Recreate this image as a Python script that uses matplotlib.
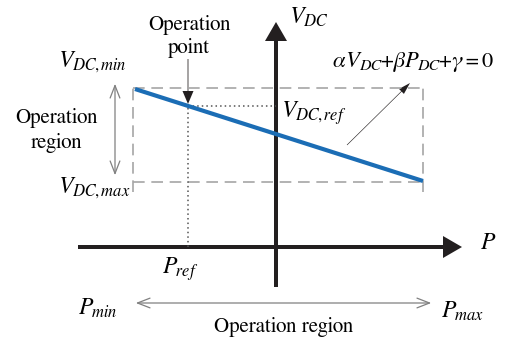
import matplotlib
matplotlib.use("Agg")
import matplotlib.pyplot as plt
from matplotlib.patches import FancyArrow

# fonts: Times-like serif with italic math
plt.rcParams['font.family'] = ['FreeSerif', 'Liberation Serif', 'DejaVu Serif']
plt.rcParams['mathtext.fontset'] = 'custom'
plt.rcParams['mathtext.rm'] = 'FreeSerif'
plt.rcParams['mathtext.it'] = 'FreeSerif:italic'
plt.rcParams['mathtext.bf'] = 'FreeSerif:bold'

# diagram values (P horizontal, V_DC vertical, origin at axis crossing)
p_limits = [-143, 147]          # P_min, P_max
v_limits = [65, 159]            # V_DC,max (bottom), V_DC,min (top)
droop_p = [-141, 147]
droop_v = [158, 66]
op_p, op_v = -88, 141           # operation point

blue = '#1b6db5'
gray = '#a6a6a6'
black = '#231f20'

fig = plt.figure(figsize=(5.05, 3.45), dpi=100)
ax = fig.add_axes([0, 0, 1, 1])
ax.set_xlim(-276, 229)
ax.set_ylim(-98, 247)
ax.axis('off')

# main axes arrows
ax.add_patch(FancyArrow(-198, 0, 384, 0, width=4, head_width=22, head_length=19,
                        length_includes_head=True, color=black, lw=0))
ax.add_patch(FancyArrow(0, -40, 0, 265, width=4, head_width=22, head_length=19,
                        length_includes_head=True, color=black, lw=0))

# dashed operation rectangle
ax.plot(p_limits, [v_limits[1]] * 2, color=gray, lw=1.2, ls=(0, (7, 4)))
ax.plot(p_limits, [v_limits[0]] * 2, color=gray, lw=1.2, ls=(0, (7, 4)))
for p in p_limits:
    ax.plot([p, p], [v_limits[0] - 10, v_limits[1]], color=gray, lw=1.2, ls=(0, (7, 4)))

# dotted guides to the operation point
ax.plot([op_p, 0], [op_v, op_v], color='#555555', lw=1.1, ls=(0, (1, 2)))
ax.plot([op_p, op_p], [0, op_v], color='#555555', lw=1.1, ls=(0, (1, 2)))

# droop line
ax.plot(droop_p, droop_v, color=blue, lw=3, solid_capstyle='butt')

# operation point arrow
ax.add_patch(FancyArrow(op_p, 188, 0, op_v - 186, width=0.8, head_width=11, head_length=13,
                        length_includes_head=True, color=black, lw=0))
# equation arrow
ax.add_patch(FancyArrow(71, 102, 63, 62, width=0.6, head_width=7, head_length=12,
                        length_includes_head=True, color=black, lw=0))

# operation region double arrows
ax.annotate('', xy=(-161, 166), xytext=(-161, 69),
            arrowprops=dict(arrowstyle='<->,head_length=0.9,head_width=0.35', color='#808080', lw=0.9))
ax.annotate('', xy=(-143, -56), xytext=(158, -56),
            arrowprops=dict(arrowstyle='<->,head_length=0.9,head_width=0.35', color='#808080', lw=0.9))

fs = 15
mfs = 17
ax.text(-87, 210.5, 'Operation\npoint', ha='center', va='center', fontsize=fs, linespacing=1.25)
ax.text(-220, 116.5, 'Operation\nregion', ha='center', va='center', fontsize=fs, linespacing=1.35)
ax.text(8, -80, 'Operation region', ha='center', va='center', fontsize=fs)

ax.text(12, 230, r'$V_{DC}$', ha='left', va='center', fontsize=mfs)
ax.text(56, 185, r'$\alpha V_{DC}{+}\beta P_{DC}{+}\gamma{=}\mathit{0}$', ha='left', va='center', fontsize=16.2)
ax.text(4, 134, r'$V_{DC,ref}$', ha='left', va='center', fontsize=mfs)
ax.text(-219, 185, r'$V_{DC,min}$', ha='left', va='center', fontsize=mfs)
ax.text(-219, 59, r'$V_{DC,max}$', ha='left', va='center', fontsize=mfs)
ax.text(204, 4, r'$P$', ha='left', va='center', fontsize=mfs)
ax.text(-114, -22, r'$P_{ref}$', ha='left', va='center', fontsize=mfs)
ax.text(-198, -61, r'$P_{min}$', ha='left', va='center', fontsize=mfs)
ax.text(165, -64, r'$P_{max}$', ha='left', va='center', fontsize=mfs)

fig.savefig('out.png', dpi=100)
